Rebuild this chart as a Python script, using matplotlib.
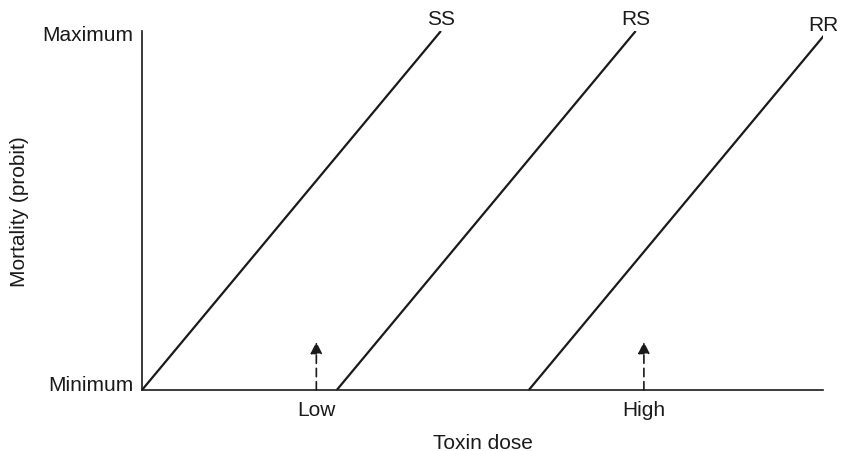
import matplotlib
matplotlib.use("Agg")
import matplotlib.pyplot as plt
import numpy as np

plt.rcParams['font.family'] = ['Liberation Sans', 'DejaVu Sans']

genotypes = ["SS", "RS", "RR"]
dose_at_min = [0.0, 28.6, 56.8]
dose_at_max = [43.9, 72.5, 100.7]
mortality_range = [0.0, 100.0]

arrow_doses = [25.6, 73.7]
arrow_labels = ["Low", "High"]
arrow_height = 13.4

ytick_vals = [2.2, 99.7]
ytick_labels = ["Minimum", "Maximum"]

XMAX = 100.0
YMAX = 100.0
FS = 15

fig = plt.figure(figsize=(8.42, 4.52), dpi=100)
ax = fig.add_axes([142/842, (452-391)/452, (823-142)/842, (391-32)/452])

for g, d0, d1 in zip(genotypes, dose_at_min, dose_at_max):
    ax.plot([d0, d1], mortality_range, color='#1a1a1a', lw=1.6, solid_capstyle='butt')
    xe = min(d1, XMAX)
    ye = mortality_range[0] + (xe - d0) / (d1 - d0) * (mortality_range[1] - mortality_range[0])
    ax.annotate(g, (xe, ye), xytext=(0, 2), textcoords='offset points',
                ha='center', va='bottom', fontsize=FS, color='#1a1a1a',
                annotation_clip=False)

for xd in arrow_doses:
    ax.annotate('', xy=(xd, arrow_height), xytext=(xd, 0),
                arrowprops=dict(arrowstyle='-|>,head_length=0.7,head_width=0.35',
                                color='#1a1a1a', lw=1.2, linestyle=(0, (5, 3)),
                                shrinkA=0, shrinkB=0))

ax.set_xlim(0, XMAX)
ax.set_ylim(0, YMAX)
ax.set_xticks(arrow_doses)
ax.set_xticklabels(arrow_labels, fontsize=FS)
ax.set_yticks(ytick_vals)
ax.set_yticklabels(ytick_labels, fontsize=FS)
ax.tick_params(axis='y', length=0, pad=6, colors='#1a1a1a')
ax.tick_params(axis='x', length=0, pad=7, colors='#1a1a1a')
ax.set_xlabel("Toxin dose", fontsize=FS, labelpad=10, color='#1a1a1a')
ax.set_ylabel("Mortality (probit)", fontsize=FS, labelpad=10, color='#1a1a1a')
for s in ['top', 'right']:
    ax.spines[s].set_visible(False)
for s in ['left', 'bottom']:
    ax.spines[s].set_linewidth(1.2)
    ax.spines[s].set_color('#1a1a1a')

fig.savefig("out.png", dpi=100)
